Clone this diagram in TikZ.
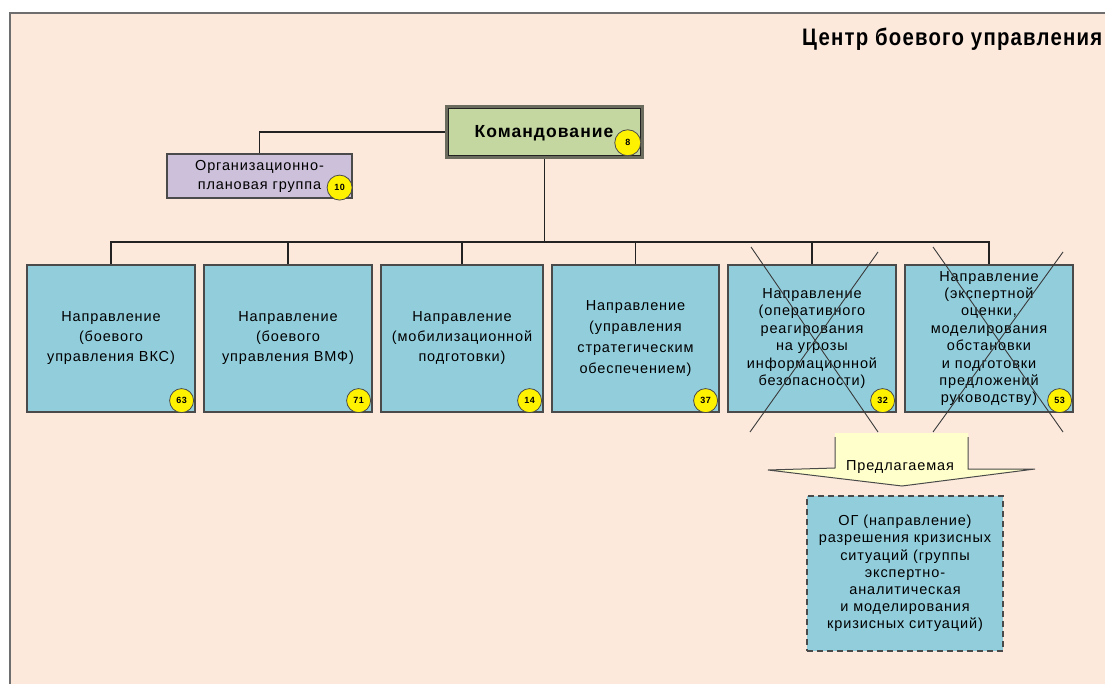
\documentclass[tikz,border=0pt]{standalone}
\usepackage{fontspec}
\setmainfont{Liberation Sans}[LetterSpace=6]
\usepackage{graphicx}
\definecolor{bgc}{HTML}{FCE9DC}
\definecolor{framec}{HTML}{6E6E6E}
\definecolor{boxblue}{HTML}{92CDDC}
\definecolor{boxline}{HTML}{4A4A4A}
\definecolor{cmdgreen}{HTML}{C4D7A0}
\definecolor{cmdedge}{HTML}{6B6B5E}
\definecolor{orglav}{HTML}{CCC0DA}
\definecolor{linec}{HTML}{222222}
\definecolor{arrowfill}{HTML}{FFFFCC}
\definecolor{crossc}{HTML}{3A3A3A}
\tikzset{
  dirbox/.style={draw=boxline, fill=boxblue, line width=1.2pt, minimum width=168pt,
    minimum height=147pt, align=center, inner sep=2pt, font={\fontsize{14.5}{20}\selectfont}},
  tightbox/.style={font={\fontsize{14.5}{17.4}\selectfont}},
  badge/.style={circle, draw=boxline, fill=yellow, line width=0.8pt, inner sep=0pt,
    minimum size=24pt, font={\fontsize{9}{9}\bfseries\selectfont}},
  conn/.style={draw=linec, line width=1.4pt},
  crossline/.style={draw=crossc, line width=0.9pt},
}
\begin{document}
\begin{tikzpicture}[x=1pt,y=-1pt]
\clip (0,0) rectangle (1105,684);
\fill[white] (0,0) rectangle (1105,684);
\draw[draw=framec, line width=2pt, fill=bgc] (10,13) rectangle (1200,800);

% title
\node[anchor=base west, inner sep=0pt] (title) at (802,46)
  {\resizebox{300pt}{17.5pt}{\bfseries Центр боевого управления}};

% command
\node[fill=cmdgreen, draw=cmdedge, line width=2.5pt, minimum width=196pt, minimum height=51pt,
  inner sep=0pt] (cmd) at (544.5,132) {};
\draw[draw=linec, line width=0.9pt] ([xshift=3pt,yshift=-3pt]cmd.north west) rectangle ([xshift=-3pt,yshift=3pt]cmd.south east);
\node[font={\fontsize{17.5}{20}\bfseries\selectfont}] (cmdtext) at (544,133) {Командование};
\node[badge, minimum size=26pt] (b8) at ([xshift=-16pt,yshift=16pt]cmd.south east) {8};

% org-plan group
\node[draw=boxline, fill=orglav, line width=1.2pt, minimum width=185pt, minimum height=44pt,
  align=center, inner sep=0pt, font={\fontsize{14.5}{19}\selectfont}] (org) at (259.5,176)
  {Организационно-\\плановая группа};
\node[badge, minimum size=25pt] (b10) at ([xshift=-13pt,yshift=11pt]org.south east) {10};

% directions
\node[dirbox] (d1) at (111,338.5) {Направление\\(боевого\\управления ВКС)};
\node[dirbox] (d2) at (288,338.5) {Направление\\(боевого\\управления ВМФ)};
\node[dirbox, minimum width=162pt] (d3) at (462,338.5) {Направление\\(мобилизационной\\подготовки)};
\node[dirbox, minimum width=167pt, font={\fontsize{14.5}{21}\selectfont}] (d4) at (635.5,338.5)
  {Направление\\(управления\\стратегическим\\обеспечением)};
\node[dirbox, tightbox] (d5) at (812,338.5)
  {Направление\\(оперативного\\реагирования\\на угрозы\\информационной\\безопасности)};
\node[dirbox, tightbox] (d6) at (989,338.5)
  {Направление\\(экспертной\\оценки,\\моделирования\\обстановки\\и подготовки\\предложений\\руководству)};

\foreach \n/\v in {d1/63,d2/71,d3/14,d4/37,d5/32,d6/53}
  \node[badge] (badge\n) at ([xshift=-14pt,yshift=12pt]\n.south east) {\v};

% connectors
\coordinate (bus) at (0,242);
\draw[conn] (cmd.west) -| (org.north);
\draw[conn] (cmd.south) -- (cmd.south |- bus);
\draw[conn] (d1.north) -- (d1.north |- bus) -- (d6.north |- bus) -- (d6.north);
\foreach \n in {d2,d3,d4,d5}
  \draw[conn] (\n.north) -- (\n.north |- bus);

% crosses
\draw[crossline] (751,247) -- (878,432);
\draw[crossline] (878,252) -- (750,432);
\draw[crossline] (933,247) -- (1063,432);
\draw[crossline] (1063,252) -- (933,432);

% proposed arrow
\fill[arrowfill] (835,433) -- (968,433) -- (968,469) -- (1035,469) -- (902,486) -- (768,470) -- (835,468) -- cycle;
\draw[draw=boxline, line width=1pt, line join=miter] (835,437) -- (835,468) -- (768,470) -- (902,486) -- (1035,469) -- (968,469) -- (968,437);
\node[font={\fontsize{14.5}{17}\selectfont}] (prop) at (900,467) {Предлагаемая};

% proposed box
\node[draw=boxline, fill=boxblue, line width=1.2pt, dashed, dash pattern=on 6pt off 4pt,
  minimum width=196pt, minimum height=155pt, align=center, inner sep=2pt,
  font={\fontsize{14.5}{17.2}\selectfont}] (og) at (905,573.5)
  {ОГ (направление)\\разрешения кризисных\\ситуаций (группы\\экспертно-\\аналитическая\\и моделирования\\кризисных ситуаций)};
\end{tikzpicture}
\end{document}
